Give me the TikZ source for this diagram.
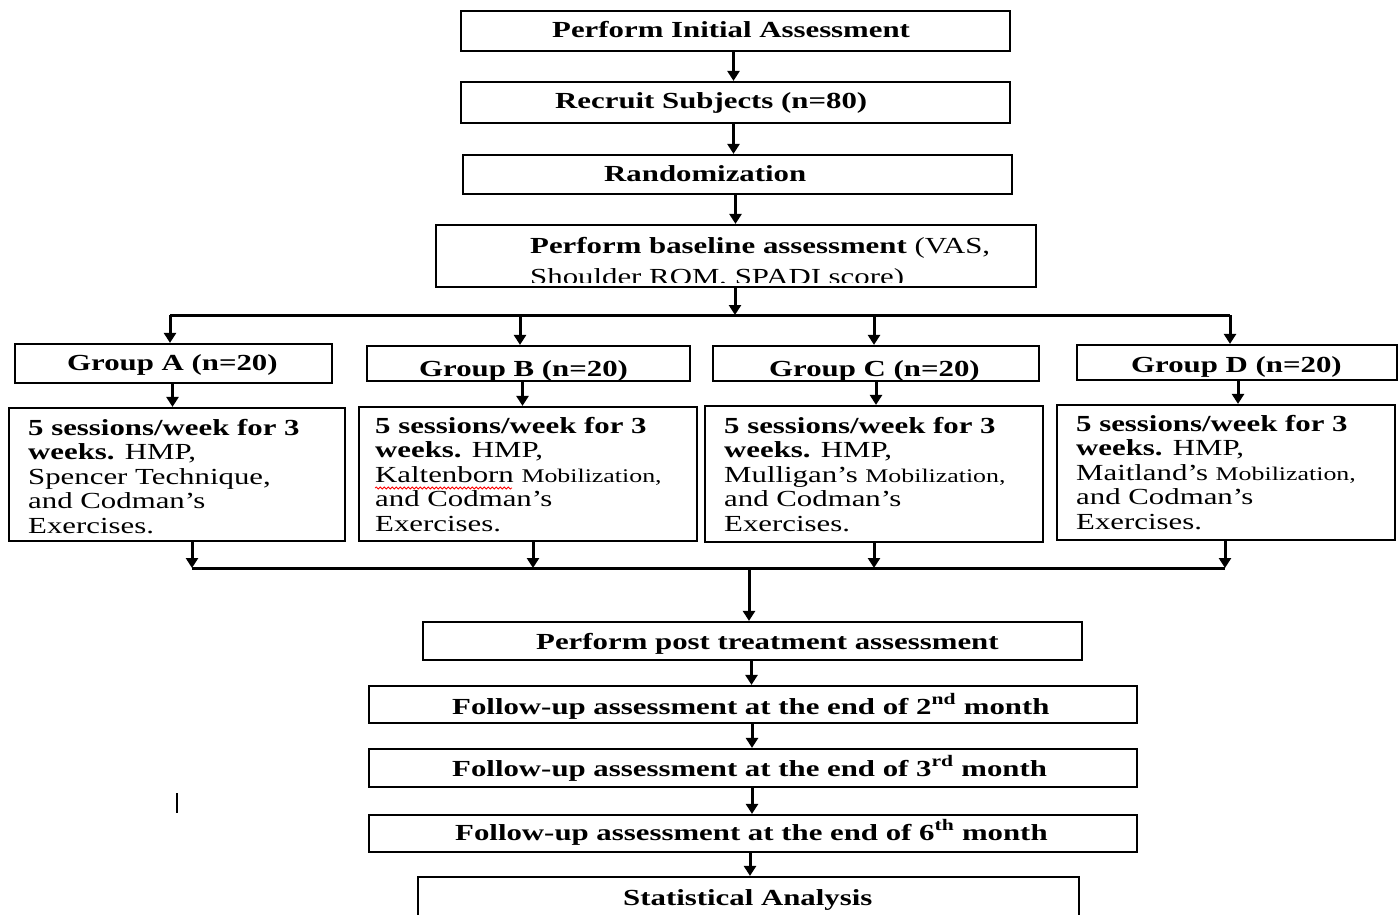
\documentclass[tikz,border=0pt]{standalone}
\usepackage{fontspec}
\setmainfont{Liberation Serif}[FakeStretch=1.34]
\usetikzlibrary{arrows.meta,fit,decorations.pathmorphing}
\newcommand{\cliptext}[5]{%
  \begin{scope}
    \clip (#2.south west) rectangle (#2.north east);
    \node[txt] (#1) at (#3,#4) {#5};
  \end{scope}}
\newcommand{\smallmob}{{\fontsize{19.3pt}{24.5pt}\selectfont Mobilization,}}
\begin{document}
\begin{tikzpicture}[x=1pt,y=-1pt,
  box/.style={draw, line width=2.2pt, inner sep=0pt, fit={#1}},
  txt/.style={anchor=base west, inner sep=0pt, align=left, font=\fontsize{23pt}{24.5pt}\selectfont},
  conn/.style={line width=3pt, -{Triangle[length=10pt,width=12pt]}},
  hline/.style={line width=3pt}]
\path[use as bounding box, fill=white] (0,0) rectangle (1398,914);
\clip (0,0) rectangle (1398,914);
% boxes
\node[box={(461,11) (1010,51)}] (b1) {};
\node[box={(461,82) (1010,123)}] (b2) {};
\node[box={(463,155) (1012,194)}] (b3) {};
\node[box={(436,225) (1036,287)}] (b4) {};
\node[box={(15,344) (332,383)}] (gA) {};
\node[box={(367,346) (690,381)}] (gB) {};
\node[box={(713,346) (1039,381)}] (gC) {};
\node[box={(1077,345) (1397,380)}] (gD) {};
\node[box={(9,408) (345,541)}] (sA) {};
\node[box={(359,407) (697,541)}] (sB) {};
\node[box={(705,406) (1043,542)}] (sC) {};
\node[box={(1057,405) (1395,540)}] (sD) {};
\node[box={(423,622) (1082,660)}] (post) {};
\node[box={(369,686) (1137,723)}] (f2) {};
\node[box={(369,749) (1137,787)}] (f3) {};
\node[box={(369,815) (1137,852)}] (f6) {};
\node[box={(418,877) (1079,930)}] (stat) {};
% texts
\cliptext{t1}{b1}{552}{37}{\textbf{Perform Initial Assessment}}
\cliptext{t2}{b2}{555}{108}{\textbf{Recruit Subjects (n=80)}}
\cliptext{t3}{b3}{604}{181}{\textbf{Randomization}}
\begin{scope}
  \clip (b4.north west) rectangle ([yshift=6]b4.south east);
  \node[txt] (t4) at (530,284) {\textbf{Perform baseline assessment} (VAS,\\[6.5pt]Shoulder ROM, SPADI score)};
\end{scope}
\cliptext{tgA}{gA}{67}{370}{\textbf{Group A (n=20)}}
\cliptext{tgB}{gB}{419}{376}{\textbf{Group B (n=20)}}
\cliptext{tgC}{gC}{769}{376}{\textbf{Group C (n=20)}}
\cliptext{tgD}{gD}{1131}{372}{\textbf{Group D (n=20)}}
\cliptext{tsA}{sA}{28}{533}{\textbf{5 sessions/week for 3}\\\textbf{weeks.} HMP,\\Spencer Technique,\\and Codman’s\\Exercises.}
\cliptext{tsB}{sB}{375}{531}{\textbf{5 sessions/week for 3}\\\textbf{weeks.} HMP,\\Kaltenborn \smallmob\\and Codman’s\\Exercises.}
\cliptext{tsC}{sC}{724}{531}{\textbf{5 sessions/week for 3}\\\textbf{weeks.} HMP,\\Mulligan’s \smallmob\\and Codman’s\\Exercises.}
\cliptext{tsD}{sD}{1076}{529}{\textbf{5 sessions/week for 3}\\\textbf{weeks.} HMP,\\Maitland’s \smallmob\\and Codman’s\\Exercises.}
\cliptext{tpost}{post}{536}{649}{\textbf{Perform post treatment assessment}}
\cliptext{tf2}{f2}{452}{714}{\textbf{Follow-up assessment at the end of 2\textsuperscript{nd} month}}
\cliptext{tf3}{f3}{452}{776}{\textbf{Follow-up assessment at the end of 3\textsuperscript{rd} month}}
\cliptext{tf6}{f6}{455}{840}{\textbf{Follow-up assessment at the end of 6\textsuperscript{th} month}}
\cliptext{tstat}{stat}{623}{905}{\textbf{Statistical Analysis}}
% spell-check underline
\draw[red, line width=0.8pt, decorate, decoration={snake, amplitude=1pt, segment length=4pt}] (375,488) -- (512,488);
% connectors top
\draw[conn] ([xshift=-2]b1.south) -- ([xshift=-2]b1.south |- b2.north);
\draw[conn] ([xshift=-2]b2.south) -- ([xshift=-2]b2.south |- b3.north);
\draw[conn] ([xshift=-2]b3.south) -- ([xshift=-2]b3.south |- b4.north);
\coordinate (split) at (735,315);
\coordinate (hl) at (170,315);
\coordinate (hr) at (1230,315);
\coordinate (jB) at (520,315);
\coordinate (jC) at (874,315);
\draw[conn] (split |- b4.south) -- (split);
\draw[hline] (hl) -- (hr);
\draw[conn] (hl) -- (hl |- gA.north);
\draw[conn] (jB) -- (jB |- gB.north);
\draw[conn] (jC) -- (jC |- gC.north);
\draw[conn] (hr) -- (hr |- gD.north);
% group to sessions
\draw[conn] ([xshift=-1]gA.south) -- ([xshift=-1]gA.south |- sA.north);
\draw[conn] ([xshift=-6]gB.south) -- ([xshift=-6]gB.south |- sB.north);
\draw[conn] (gC.south) -- (gC.south |- sC.north);
\draw[conn] ([xshift=1]gD.south) -- ([xshift=1]gD.south |- sD.north);
% merge
\coordinate (mA) at (192,568);
\coordinate (mB) at (533,568);
\coordinate (mC) at (874,568);
\coordinate (mD) at (1225,568);
\coordinate (mid) at (749,568);
\draw[conn] (mA |- sA.south) -- (mA);
\draw[conn] (mB |- sB.south) -- (mB);
\draw[conn] (mC |- sC.south) -- (mC);
\draw[conn] (mD |- sD.south) -- (mD);
\draw[hline] (mA) -- (mD);
\draw[conn] ([yshift=-1.5]mid) -- (mid |- post.north);
% bottom chain
\draw[conn] ([xshift=-1]post.south) -- ([xshift=-1]post.south |- f2.north);
\draw[conn] ([xshift=-1]f2.south) -- ([xshift=-1]f2.south |- f3.north);
\draw[conn] ([xshift=-1]f3.south) -- ([xshift=-1]f3.south |- f6.north);
\draw[conn] ([xshift=-3]f6.south) -- ([xshift=-3]f6.south |- stat.north);
% stray cursor mark
\draw[line width=1.5pt] (177,793) -- (177,813);
\end{tikzpicture}
\end{document}
